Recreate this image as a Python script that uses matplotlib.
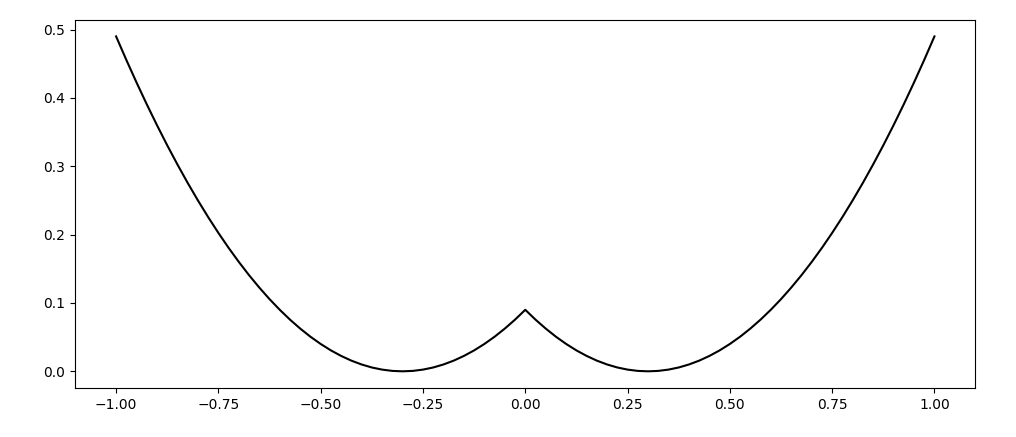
import matplotlib
matplotlib.use("Agg")
import matplotlib.pyplot as plt

# values (left half, x from -1.0 to 0.0)
x_left = [-1.000, -0.975, -0.950, -0.925, -0.900, -0.875, -0.850, -0.825, -0.800, -0.775,
          -0.750, -0.725, -0.700, -0.675, -0.650, -0.625, -0.600, -0.575, -0.550, -0.525,
          -0.500, -0.475, -0.450, -0.425, -0.400, -0.375, -0.350, -0.325, -0.300, -0.275,
          -0.250, -0.225, -0.200, -0.175, -0.150, -0.125, -0.100, -0.075, -0.050, -0.025,
          0.000]
y_left = [0.4900, 0.4556, 0.4225, 0.3906, 0.3600, 0.3306, 0.3025, 0.2756, 0.2500, 0.2256,
          0.2025, 0.1806, 0.1600, 0.1406, 0.1225, 0.1056, 0.0900, 0.0756, 0.0625, 0.0506,
          0.0400, 0.0306, 0.0225, 0.0156, 0.0100, 0.0056, 0.0025, 0.0006, 0.0000, 0.0006,
          0.0025, 0.0056, 0.0100, 0.0156, 0.0225, 0.0306, 0.0400, 0.0506, 0.0625, 0.0756,
          0.0900]

# right half (x from 0.025 to 1.0)
x_right = [0.025, 0.050, 0.075, 0.100, 0.125, 0.150, 0.175, 0.200, 0.225, 0.250,
           0.275, 0.300, 0.325, 0.350, 0.375, 0.400, 0.425, 0.450, 0.475, 0.500,
           0.525, 0.550, 0.575, 0.600, 0.625, 0.650, 0.675, 0.700, 0.725, 0.750,
           0.775, 0.800, 0.825, 0.850, 0.875, 0.900, 0.925, 0.950, 0.975, 1.000]
y_right = [0.0756, 0.0625, 0.0506, 0.0400, 0.0306, 0.0225, 0.0156, 0.0100, 0.0056, 0.0025,
           0.0006, 0.0000, 0.0006, 0.0025, 0.0056, 0.0100, 0.0156, 0.0225, 0.0306, 0.0400,
           0.0506, 0.0625, 0.0756, 0.0900, 0.1056, 0.1225, 0.1406, 0.1600, 0.1806, 0.2025,
           0.2256, 0.2500, 0.2756, 0.3025, 0.3306, 0.3600, 0.3906, 0.4225, 0.4556, 0.4900]

x_vals = x_left + x_right
y_vals = y_left + y_right

fig, ax = plt.subplots(figsize=(10.16, 4.37), dpi=100)
ax.plot(x_vals, y_vals, color="black", linewidth=1.5)
fig.subplots_adjust(left=0.074, right=0.96, top=0.955, bottom=0.112)

plt.savefig("out.png", dpi=100)
